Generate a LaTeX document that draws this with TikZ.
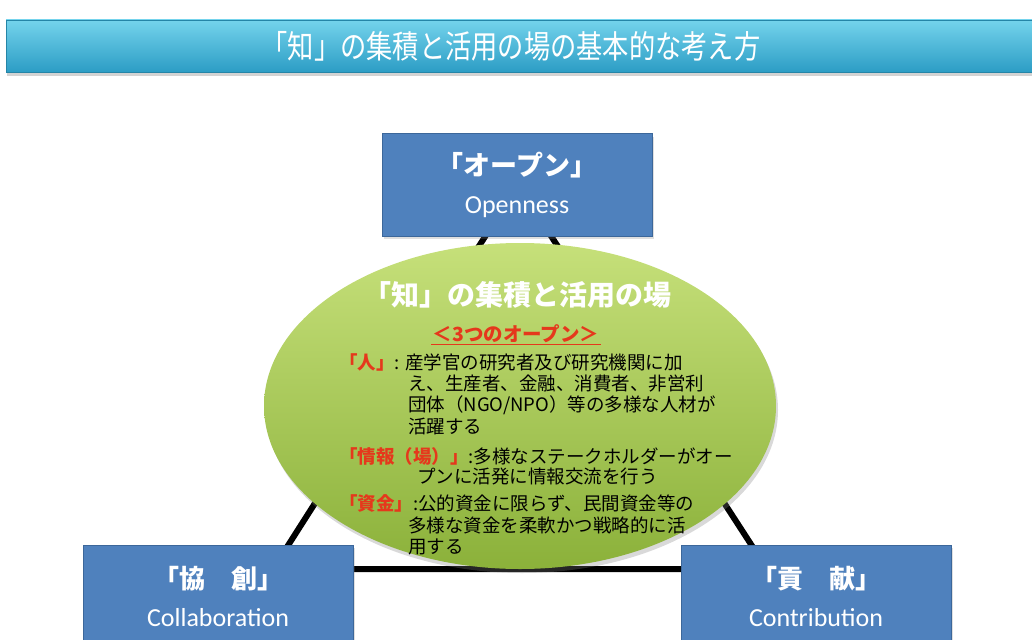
\documentclass[tikz,border=0pt]{standalone}
\usepackage{fontspec}
\setmainfont{Noto Sans CJK JP}
\newfontfamily\ttl[FakeStretch=0.82]{Noto Sans CJK JP}
\newfontfamily\lat{Carlito}
\usetikzlibrary{shapes.geometric,shadows}
\definecolor{barT}{HTML}{74D3EC}
\definecolor{barB}{HTML}{2C9DC5}
\definecolor{boxB}{HTML}{4F81BD}
\definecolor{boxD}{HTML}{3C679A}
\definecolor{hubT}{HTML}{C6E07A}
\definecolor{hubB}{HTML}{8BB13A}
\definecolor{lbl}{HTML}{E5381C}

\begin{document}
\begin{tikzpicture}[x=1pt,y=-1pt,
  corner/.style={draw=boxD,line width=1pt,fill=boxB,text=white,
    minimum width=270pt,minimum height=102pt,align=center,
    font=\fontsize{26}{38}\selectfont,
    drop shadow={opacity=0.25,shadow xshift=2pt,shadow yshift=-3pt}},
  side/.style={line width=6pt,line join=round},
  body/.style={anchor=west,inner sep=0pt,font=\fontsize{18.5}{22}\selectfont},
  tag/.style={text=lbl,font=\bfseries}]
  \useasboundingbox (0,0) rectangle (1032,639);
  \node[minimum width=1026pt,minimum height=52pt,top color=barT,bottom color=barB,
    draw=barB!85!black,line width=0.8pt,text=white,
    drop shadow={opacity=0.35,shadow xshift=1pt,shadow yshift=-4pt},
    font=\ttl\fontsize{32}{34}\selectfont] (TTL) at (519,46) {\hspace*{-16pt}「知」の集積と活用の場の基本的な考え方};
  \coordinate (AP) at (518,185);
  \coordinate (LV) at (273,569);
  \coordinate (RV) at (767,569);
  \draw[side] (AP) -- (LV) -- (RV) -- cycle;
  \node[ellipse,minimum width=512pt,minimum height=326pt,top color=hubT,bottom color=hubB,
    drop shadow={opacity=0.3,shadow xshift=2pt,shadow yshift=-4pt}] (HUB) at (520,406) {};
  \node[text=white,font=\bfseries\fontsize{28}{30}\selectfont] (HT) at (517,295) {「知」の集積と活用の場};
  \node[text=lbl,font=\bfseries\fontsize{19.5}{22}\selectfont,inner sep=1pt] (SUB) at (516,334) {＜3つのオープン＞};
  \draw[lbl,line width=1pt] (SUB.south west) -- (SUB.south east);
  \node[body] (P1) at (339,362) {{\color{lbl}\bfseries 「人」}: 産学官の研究者及び研究機関に加};
  \node[body] (P2) at (408,384) {え、生産者、金融、消費者、非営利};
  \node[body] (P3) at (408,405) {団体（NGO/NPO）等の多様な人材が};
  \node[body] (P4) at (408,427) {活躍する};
  \node[body] (I1) at (339,456) {{\color{lbl}\bfseries 「情報（場）」}:多様なステークホルダーがオー};
  \node[body] (I2) at (417,477) {プンに活発に情報交流を行う};
  \node[body] (M1) at (339,503) {{\color{lbl}\bfseries 「資金」}:公的資金に限らず、民間資金等の};
  \node[body] (M2) at (408,525) {多様な資金を柔軟かつ戦略的に活};
  \node[body] (M3) at (408,547) {用する};
  \node[corner] (OP) at (517,185) {{\bfseries\fontsize{27}{38}\selectfont 「オープン」}\\{\lat Openness}};
  \node[corner] (CO) at (218,596) {{\bfseries 「協　創」}\\{\lat Collaboration}};
  \node[corner] (CT) at (816,596) {{\bfseries 「貢　献」}\\{\lat Contribution}};
\end{tikzpicture}
\end{document}
